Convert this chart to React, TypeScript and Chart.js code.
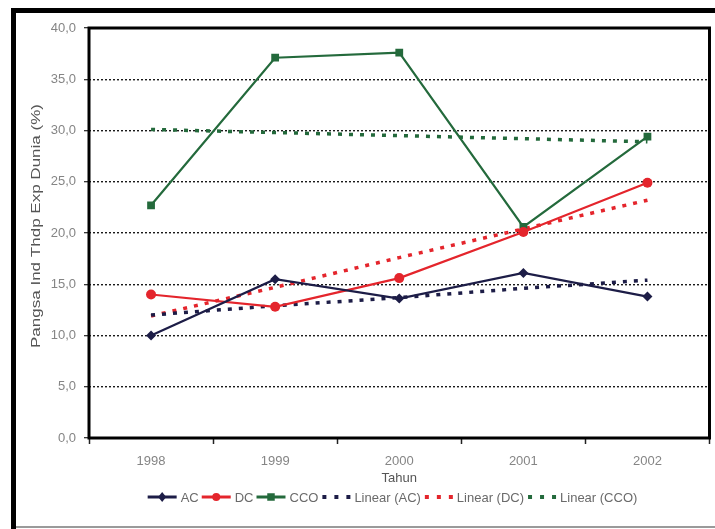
import React, { useEffect, useRef } from "react";
import { Chart, registerables } from "chart.js";

Chart.register(...registerables);

const years = ["1998", "1999", "2000", "2001", "2002"];
const acValues = [10.0, 15.5, 13.6, 16.1, 13.8];
const dcValues = [14.0, 12.8, 15.6, 20.1, 24.9];
const ccoValues = [22.7, 37.1, 37.6, 20.6, 29.4];
const acTrend = [12.0, 12.9, 13.7, 14.6, 15.4];
const dcTrend = [11.9, 14.7, 17.6, 20.4, 23.2];
const ccoTrend = [30.1, 29.8, 29.5, 29.2, 28.9];
const yTickLabels = ["0,0", "5,0", "10,0", "15,0", "20,0", "25,0", "30,0", "35,0", "40,0"];
const seriesNames = ["AC", "DC", "CCO", "Linear (AC)", "Linear (DC)", "Linear (CCO)"];
const yTitle = "Pangsa Ind Thdp Exp Dunia (%)";
const xTitle = "Tahun";

const NAVY = "#1d1d47";
const RED = "#e4252c";
const GREEN = "#246a3c";
const FONT = "'Liberation Sans', Arial, sans-serif";

const legendStyles = [
  { color: NAVY, marker: "diamond", dash: false },
  { color: RED, marker: "circle", dash: false },
  { color: GREEN, marker: "square", dash: false },
  { color: NAVY, marker: "", dash: true },
  { color: RED, marker: "", dash: true },
  { color: GREEN, marker: "", dash: true },
];

function drawMarker(ctx: CanvasRenderingContext2D, kind: string, x: number, y: number, r: number, color: string) {
  ctx.fillStyle = color;
  ctx.beginPath();
  if (kind === "diamond") {
    ctx.moveTo(x, y - r);
    ctx.lineTo(x + r * 0.8, y);
    ctx.lineTo(x, y + r);
    ctx.lineTo(x - r * 0.8, y);
    ctx.closePath();
  } else if (kind === "circle") {
    ctx.arc(x, y, r * 0.8, 0, Math.PI * 2);
  } else if (kind === "square") {
    ctx.rect(x - r * 0.75, y - r * 0.75, r * 1.5, r * 1.5);
  }
  ctx.fill();
}

const framePlugin = {
  id: "framePlugin",
  beforeDraw(chart: any) {
    const ctx = chart.ctx as CanvasRenderingContext2D;
    ctx.save();
    ctx.fillStyle = "#ffffff";
    ctx.fillRect(0, 0, chart.width, chart.height);
    ctx.fillStyle = "#000000";
    ctx.fillRect(11, 8, chart.width - 11, 5);
    ctx.fillRect(11, 8, 5, chart.height - 8);
    ctx.fillStyle = "#9a9a9a";
    ctx.fillRect(16, 526, chart.width - 16, 2);
    ctx.restore();
  },
  beforeDatasetsDraw(chart: any) {
    const ctx = chart.ctx as CanvasRenderingContext2D;
    const a = chart.chartArea;
    ctx.save();
    ctx.strokeStyle = "#000000";
    ctx.lineWidth = 3;
    ctx.strokeRect(a.left, a.top, a.right - a.left, a.bottom - a.top);
    ctx.restore();
  },
  afterDraw(chart: any) {
    const ctx = chart.ctx as CanvasRenderingContext2D;
    ctx.save();
    // y axis title (stretched along its length like the reference)
    ctx.fillStyle = "#555555";
    ctx.font = `13px ${FONT}`;
    ctx.textAlign = "center";
    ctx.textBaseline = "middle";
    const w = ctx.measureText(yTitle).width;
    ctx.translate(36, 226);
    ctx.rotate(-Math.PI / 2);
    ctx.scale(244 / w, 1);
    ctx.fillText(yTitle, 0, 0);
    ctx.restore();

    // legend
    ctx.save();
    ctx.font = `13px ${FONT}`;
    ctx.textBaseline = "middle";
    ctx.textAlign = "left";
    const symW = 29;
    const gapSym = 4;
    const gapItem = 3;
    let total = 0;
    seriesNames.forEach((n) => {
      total += symW + gapSym + ctx.measureText(n).width + gapItem;
    });
    total -= gapItem;
    let x = 392.5 - total / 2;
    const y = 497;
    seriesNames.forEach((n, i) => {
      const st = legendStyles[i];
      ctx.strokeStyle = st.color;
      if (st.dash) {
        ctx.lineWidth = 4;
        ctx.setLineDash([4, 8]);
        ctx.beginPath();
        ctx.moveTo(x + 1, y);
        ctx.lineTo(x + symW, y);
        ctx.stroke();
        ctx.setLineDash([]);
      } else {
        ctx.lineWidth = 3;
        ctx.beginPath();
        ctx.moveTo(x, y);
        ctx.lineTo(x + symW, y);
        ctx.stroke();
        drawMarker(ctx, st.marker, x + symW / 2, y, 5, st.color);
      }
      x += symW + gapSym;
      ctx.fillStyle = "#6a6a6a";
      ctx.fillText(n, x, y + 1);
      x += ctx.measureText(n).width + gapItem;
    });
    ctx.restore();
  },
};

export default function App() {
  const ref = useRef<HTMLCanvasElement | null>(null);
  useEffect(() => {
    if (!ref.current) return;
    const trendCommon = {
      pointRadius: 0,
      borderWidth: 3.5,
      borderDash: [4, 7],
      fill: false,
      tension: 0,
    };
    const chart = new Chart(ref.current, {
      type: "line",
      data: {
        labels: years,
        datasets: [
          {
            label: seriesNames[0],
            data: acValues,
            borderColor: NAVY,
            backgroundColor: NAVY,
            borderWidth: 2.2,
            pointStyle: "rectRot",
            pointRadius: 5,
            pointBorderWidth: 0,
          },
          {
            label: seriesNames[1],
            data: dcValues,
            borderColor: RED,
            backgroundColor: RED,
            borderWidth: 2.2,
            pointStyle: "circle",
            pointRadius: 5,
            pointBorderWidth: 0,
          },
          {
            label: seriesNames[2],
            data: ccoValues,
            borderColor: GREEN,
            backgroundColor: GREEN,
            borderWidth: 2.2,
            pointStyle: "rect",
            pointRadius: 5.5,
            pointBorderWidth: 0,
          },
          { label: seriesNames[3], data: acTrend, borderColor: NAVY, backgroundColor: NAVY, ...trendCommon },
          { label: seriesNames[4], data: dcTrend, borderColor: RED, backgroundColor: RED, ...trendCommon },
          { label: seriesNames[5], data: ccoTrend, borderColor: GREEN, backgroundColor: GREEN, ...trendCommon },
        ],
      },
      options: {
        responsive: false,
        animation: false,
        layout: { padding: { top: 28, right: 4, left: 0, bottom: 0 } },
        plugins: {
          legend: { display: false },
          tooltip: { enabled: false },
        },
        scales: {
          x: {
            offset: true,
            afterFit: (s: any) => {
              s.height = 91;
            },
            grid: {
              offset: true,
              drawOnChartArea: false,
              drawTicks: true,
              tickLength: 6,
              tickColor: "#222222",
              tickWidth: 1.5,
            },
            border: { display: false },
            ticks: {
              color: "#858585",
              font: { family: FONT, size: 13 },
              padding: 10,
              maxRotation: 0,
            },
            title: {
              display: true,
              text: xTitle,
              color: "#555555",
              font: { family: FONT, size: 13 },
              padding: { top: 0, bottom: 43 },
            },
          },
          y: {
            min: 0,
            max: 40,
            afterFit: (s: any) => {
              s.width = 89;
            },
            grid: {
              color: "#1a1a1a",
              lineWidth: 1.4,
              tickLength: 5,
              tickColor: "#222222",
              tickWidth: 1.2,
              tickBorderDash: [],
            },
            border: { display: false, dash: [2, 2] },
            ticks: {
              stepSize: 5,
              color: "#858585",
              font: { family: FONT, size: 13 },
              padding: 8,
              callback: (_v: any, i: number) => yTickLabels[i],
            },
          },
        },
      },
      plugins: [framePlugin],
    } as any);
    return () => chart.destroy();
  }, []);
  return (
    <div style={{ position: "absolute", left: 0, top: 0, width: 715, height: 529 }}>
      <canvas ref={ref} width={715} height={529} />
    </div>
  );
}
